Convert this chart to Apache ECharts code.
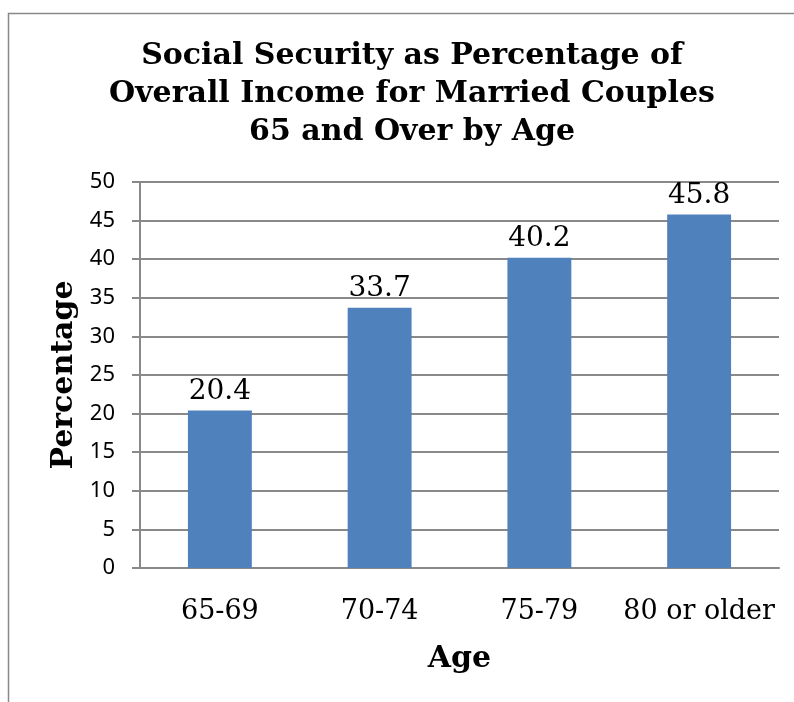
<!DOCTYPE html>
<html>
<head>
<meta charset="utf-8">
<script src="https://cdn.jsdelivr.net/npm/echarts@6/dist/echarts.min.js"></script>
<style>
html,body{margin:0;padding:0;background:#fff;}
#c{width:794px;height:702px;}
</style>
</head>
<body>
<div id="c"></div>
<script>
const categories = ['65-69', '70-74', '75-79', '80 or older'];
const values = [20.4, 33.7, 40.2, 45.8];
const titleText = 'Social Security as Percentage of\nOverall Income for Married Couples\n65 and Over by Age';
const xName = 'Age';
const yName = 'Percentage';

const chart = echarts.init(document.getElementById('c'), null, {renderer: 'canvas'});
const serif = '"DejaVu Serif", serif';
const gray = '#898989';
chart.setOption({
  animation: false,
  backgroundColor: '#fff',
  graphic: [{
    type: 'rect',
    shape: {x: 8.5, y: 13.5, width: 1000, height: 1000},
    style: {fill: 'none', stroke: gray, lineWidth: 1.5},
    silent: true
  }],
  title: {
    text: titleText,
    left: 407,
    top: 32,
    textAlign: 'center',
    textStyle: {fontFamily: serif, fontWeight: 'bold', fontSize: 30, lineHeight: 38, color: '#000'}
  },
  grid: {left: 140, right: 15, top: 182, bottom: 134},
  xAxis: {
    type: 'category',
    data: categories,
    name: xName,
    nameLocation: 'middle',
    nameGap: 76,
    nameTextStyle: {fontFamily: serif, fontWeight: 'bold', fontSize: 30, color: '#000'},
    axisLine: {lineStyle: {color: gray, width: 2}},
    axisTick: {show: false},
    axisLabel: {interval: 0, fontFamily: serif, fontSize: 27, color: '#000', margin: 30}
  },
  yAxis: {
    type: 'value',
    min: 0, max: 50, interval: 5,
    name: yName,
    nameLocation: 'middle',
    nameGap: 57,
    nameRotate: 90,
    nameTextStyle: {fontFamily: serif, fontWeight: 'bold', fontSize: 30, color: '#000'},
    axisLine: {show: true, lineStyle: {color: gray, width: 2}},
    axisTick: {show: true, length: 8, lineStyle: {color: gray, width: 2}},
    splitLine: {lineStyle: {color: gray, width: 2}},
    axisLabel: {fontFamily: '"Noto Sans", sans-serif', fontSize: 22, color: '#000', margin: 25}
  },
  series: [{
    type: 'bar',
    data: values,
    barWidth: '40%',
    itemStyle: {color: '#4F81BD'},
    label: {
      show: true,
      position: 'top',
      distance: 5,
      fontFamily: serif,
      fontSize: 28,
      color: '#000'
    }
  }]
});
</script>
</body>
</html>
